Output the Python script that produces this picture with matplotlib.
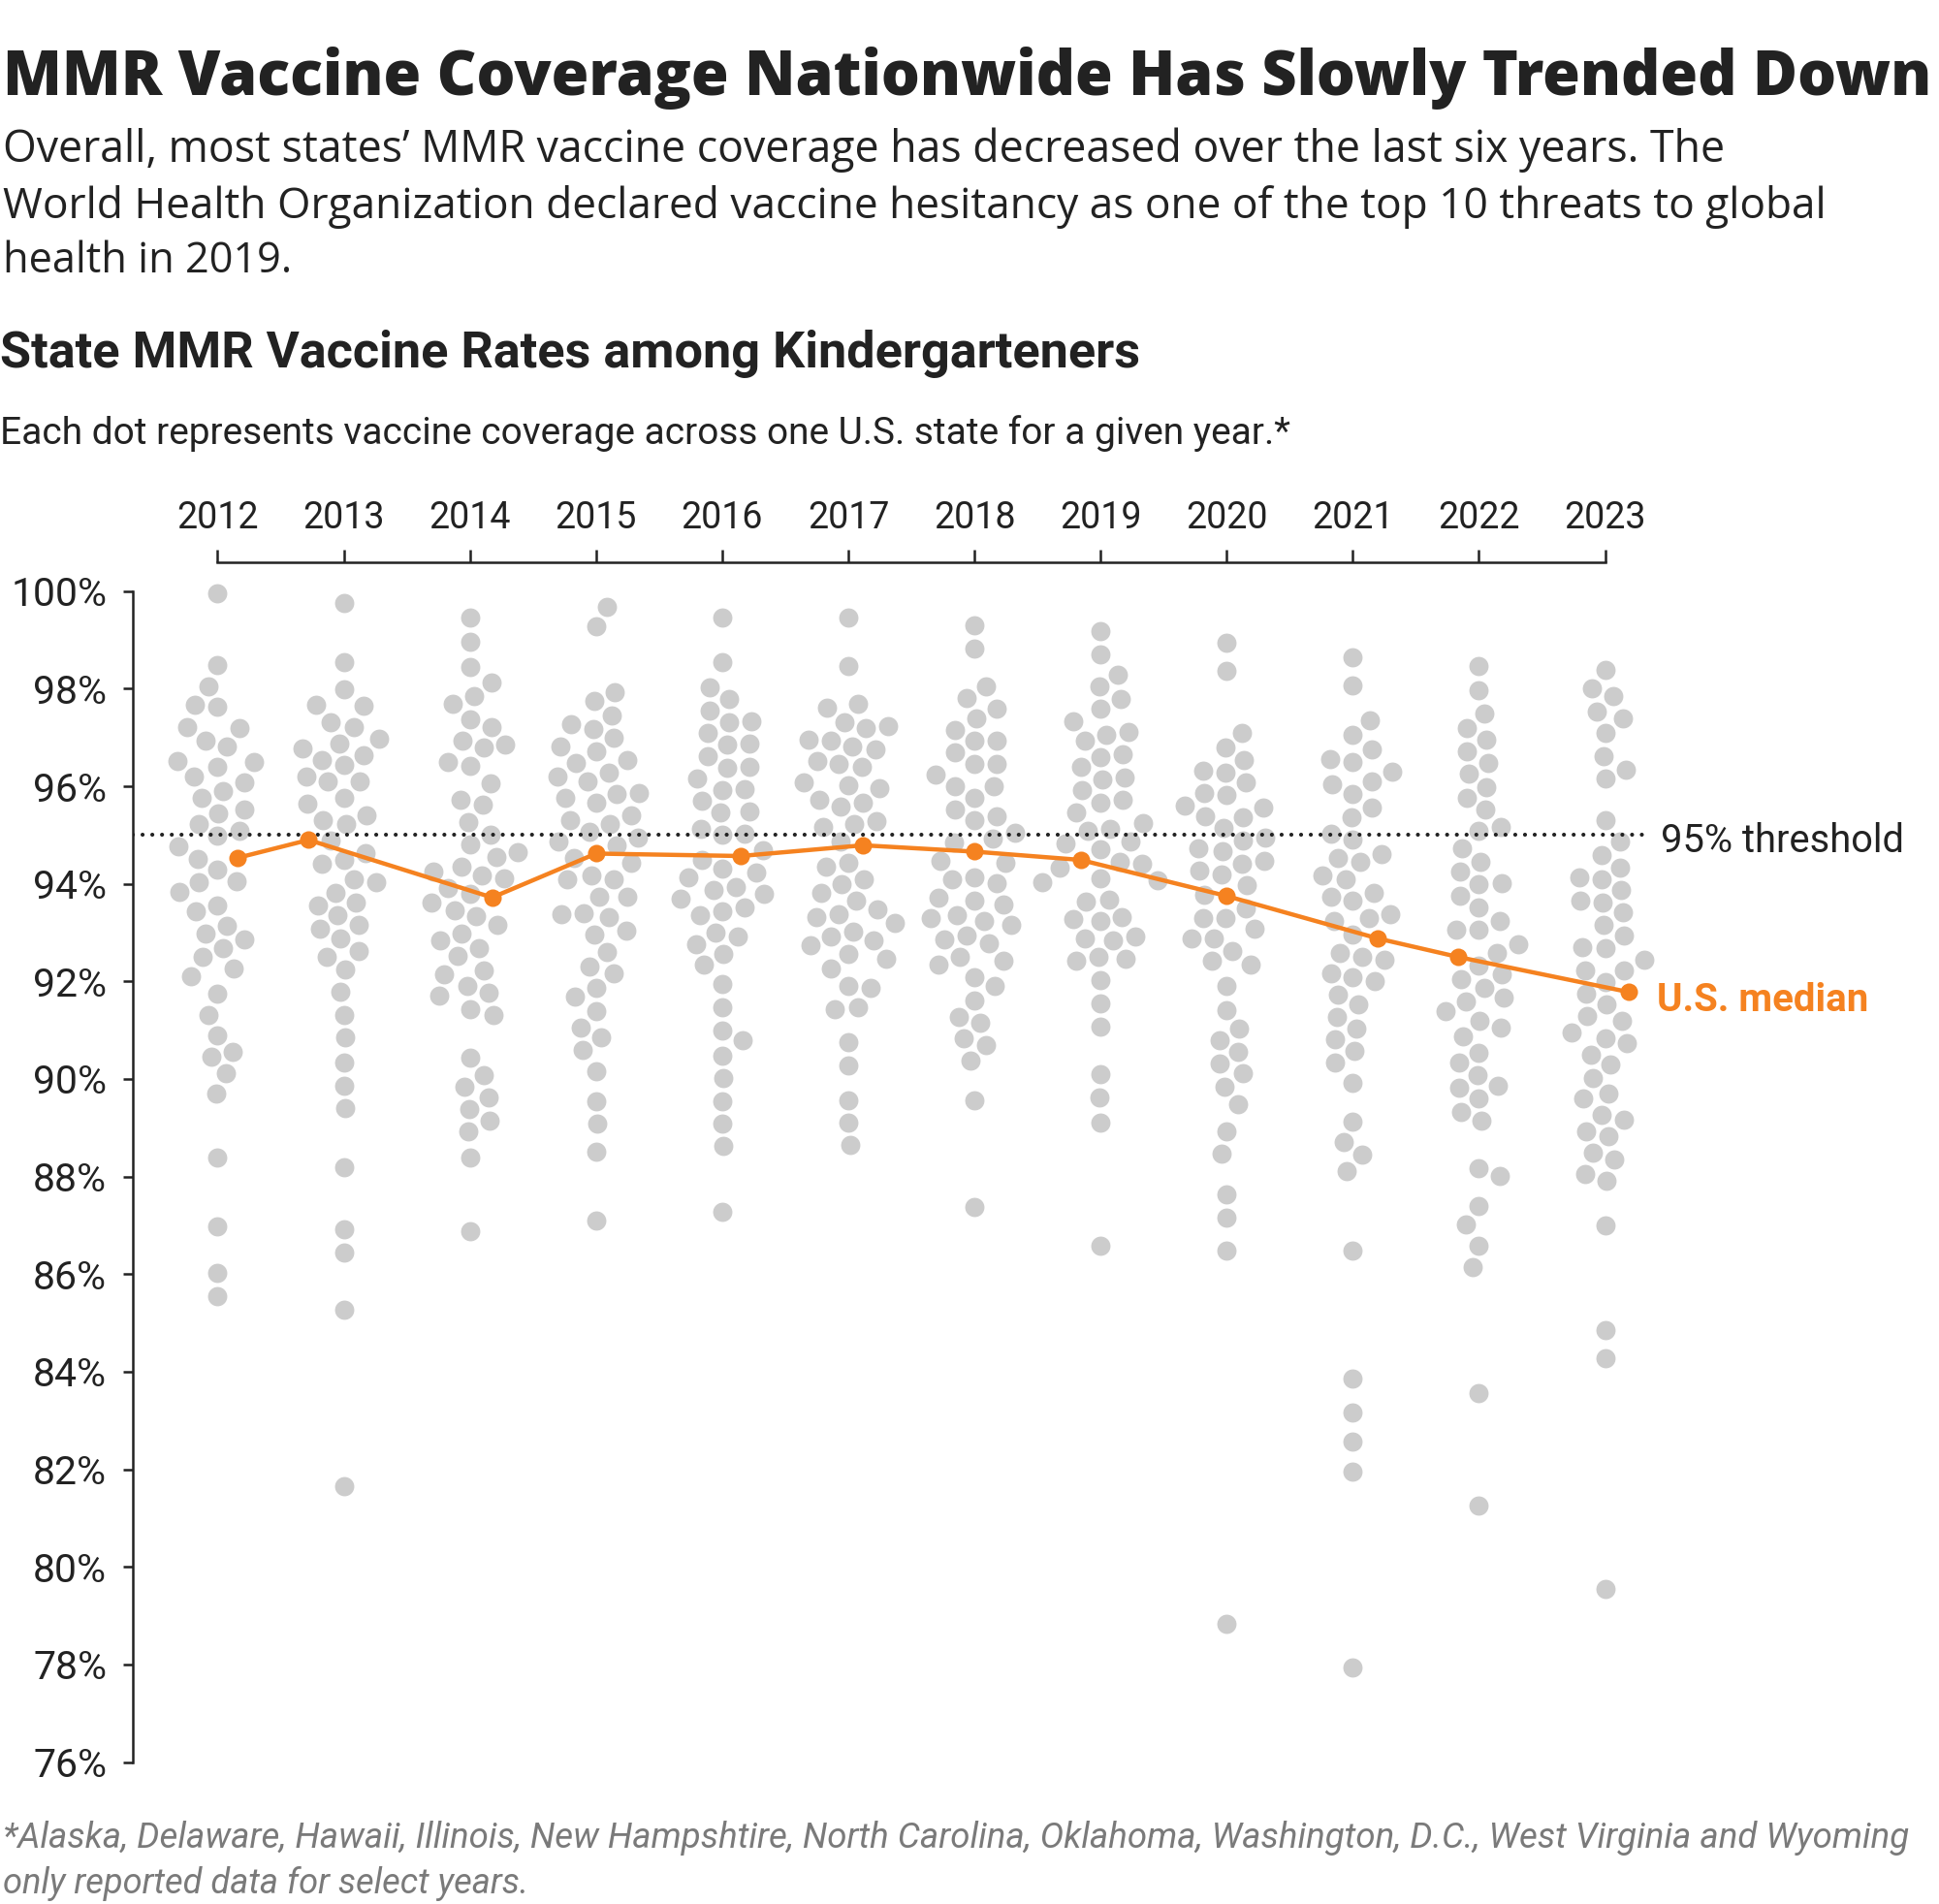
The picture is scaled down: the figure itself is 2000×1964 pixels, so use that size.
import numpy as np
import matplotlib.pyplot as plt

# ---- data ----
YEARS = [2012, 2013, 2014, 2015, 2016, 2017, 2018, 2019, 2020, 2021, 2022, 2023]

RATES_2012 = [99.96, 98.49, 98.04, 97.66, 97.62, 97.22, 97.20, 96.94, 96.82, 96.51, 96.49, 96.40,
              96.19, 96.08, 95.90, 95.76, 95.53, 95.45, 95.23, 95.08, 94.98, 94.76, 94.51, 94.30,
              94.06, 94.04, 93.83, 93.56, 93.44, 93.14, 92.98, 92.86, 92.68, 92.50, 92.27, 92.10,
              91.74, 91.32, 90.90, 90.56, 90.45, 90.11, 89.70, 88.40, 86.98, 86.02, 85.54]
RATES_2013 = [99.76, 98.55, 97.99, 97.66, 97.64, 97.31, 97.22, 96.98, 96.88, 96.77, 96.64, 96.54,
              96.43, 96.20, 96.09, 96.09, 95.76, 95.65, 95.40, 95.31, 95.23, 94.88, 94.62, 94.50,
              94.41, 94.09, 94.04, 93.82, 93.62, 93.55, 93.35, 93.16, 93.08, 92.88, 92.62, 92.51,
              92.24, 91.79, 91.32, 90.86, 90.34, 89.87, 89.41, 88.20, 86.92, 86.45, 85.28, 81.65]
RATES_2014 = [99.45, 98.97, 98.45, 98.13, 97.84, 97.68, 97.38, 97.22, 96.94, 96.86, 96.79, 96.50,
              96.42, 96.06, 95.72, 95.63, 95.27, 95.00, 94.81, 94.64, 94.54, 94.36, 94.26, 94.18,
              94.11, 93.91, 93.79, 93.61, 93.45, 93.33, 93.15, 92.98, 92.85, 92.68, 92.52, 92.23,
              92.15, 91.91, 91.77, 91.70, 91.44, 91.32, 90.43, 90.07, 89.85, 89.62, 89.38, 89.15,
              88.92, 88.40, 86.88]
RATES_2015 = [99.67, 99.27, 97.92, 97.74, 97.45, 97.27, 97.18, 96.99, 96.82, 96.71, 96.54, 96.48,
              96.28, 96.19, 96.09, 95.86, 95.84, 95.76, 95.66, 95.41, 95.31, 95.23, 95.06, 94.95,
              94.87, 94.79, 94.53, 94.43, 94.17, 94.10, 94.09, 93.74, 93.73, 93.40, 93.38, 93.32,
              93.03, 92.97, 92.60, 92.31, 92.16, 91.86, 91.69, 91.39, 91.05, 90.86, 90.59, 90.16,
              89.54, 89.08, 88.51, 87.10]
RATES_2016 = [99.46, 98.55, 98.02, 97.78, 97.55, 97.33, 97.31, 97.09, 96.87, 96.85, 96.62, 96.40,
              96.38, 96.15, 95.95, 95.93, 95.70, 95.48, 95.46, 95.13, 95.03, 95.00, 94.68, 94.50,
              94.31, 94.23, 94.13, 93.94, 93.87, 93.80, 93.70, 93.52, 93.44, 93.35, 93.00, 92.93,
              92.77, 92.57, 92.34, 91.95, 91.48, 91.00, 90.79, 90.47, 90.01, 89.55, 89.08, 88.62,
              87.28]
RATES_2017 = [99.46, 98.46, 97.68, 97.61, 97.31, 97.24, 97.19, 96.95, 96.93, 96.82, 96.76, 96.52,
              96.45, 96.39, 96.08, 96.03, 95.97, 95.73, 95.66, 95.59, 95.29, 95.23, 95.17, 94.87,
              94.44, 94.36, 94.10, 94.00, 93.82, 93.65, 93.48, 93.37, 93.31, 93.20, 93.02, 92.92,
              92.85, 92.74, 92.56, 92.46, 92.27, 91.90, 91.87, 91.48, 91.44, 90.75, 90.28, 89.57,
              89.10, 88.64]
RATES_2018 = [99.29, 98.82, 98.05, 97.81, 97.58, 97.39, 97.16, 96.93, 96.93, 96.69, 96.46, 96.46,
              96.23, 96.01, 96.00, 95.77, 95.52, 95.38, 95.30, 95.05, 94.92, 94.85, 94.48, 94.44,
              94.13, 94.09, 94.02, 93.72, 93.65, 93.58, 93.36, 93.29, 93.23, 93.15, 92.94, 92.86,
              92.78, 92.50, 92.43, 92.35, 92.08, 91.90, 91.61, 91.28, 91.15, 90.83, 90.70, 90.37,
              89.57, 87.38]
RATES_2019 = [99.17, 98.70, 98.29, 98.04, 97.78, 97.58, 97.33, 97.12, 97.06, 96.93, 96.65, 96.60,
              96.39, 96.18, 96.14, 95.93, 95.72, 95.67, 95.47, 95.25, 95.13, 95.08, 94.87, 94.83,
              94.70, 94.46, 94.41, 94.34, 94.11, 94.07, 94.04, 93.68, 93.64, 93.31, 93.27, 93.23,
              92.93, 92.88, 92.85, 92.50, 92.47, 92.43, 92.03, 91.55, 91.08, 90.09, 89.63, 89.10,
              86.59]
RATES_2020 = [98.95, 98.36, 97.10, 96.80, 96.54, 96.32, 96.28, 96.07, 95.86, 95.82, 95.60, 95.57,
              95.39, 95.36, 95.14, 94.94, 94.89, 94.73, 94.67, 94.47, 94.42, 94.27, 94.20, 93.97,
              93.77, 93.50, 93.29, 93.29, 93.08, 92.89, 92.88, 92.62, 92.43, 92.34, 91.90, 91.42,
              91.03, 90.80, 90.56, 90.32, 90.11, 89.85, 89.48, 88.92, 88.47, 87.63, 87.16, 86.49,
              78.83]
RATES_2021 = [98.65, 98.06, 97.36, 97.05, 96.76, 96.56, 96.50, 96.30, 96.10, 96.05, 95.85, 95.56,
              95.37, 95.03, 94.91, 94.61, 94.53, 94.46, 94.17, 94.10, 93.81, 93.74, 93.66, 93.38,
              93.30, 93.23, 92.97, 92.59, 92.51, 92.44, 92.17, 92.08, 92.01, 91.73, 91.52, 91.27,
              91.04, 90.81, 90.57, 90.34, 89.93, 89.12, 88.70, 88.45, 88.12, 86.48, 83.87, 83.16,
              82.57, 81.96, 77.94]
RATES_2022 = [98.46, 97.96, 97.49, 97.19, 96.95, 96.72, 96.48, 96.26, 95.99, 95.77, 95.52, 95.16,
              95.08, 94.73, 94.46, 94.26, 94.01, 94.00, 93.76, 93.52, 93.24, 93.06, 93.05, 92.77,
              92.59, 92.32, 92.14, 92.04, 91.87, 91.66, 91.58, 91.39, 91.20, 91.06, 90.87, 90.53,
              90.33, 90.07, 89.87, 89.82, 89.61, 89.33, 89.15, 88.17, 88.02, 87.39, 87.02, 86.59,
              86.15, 83.56, 81.25]
RATES_2023 = [98.38, 98.01, 97.85, 97.53, 97.39, 97.10, 96.62, 96.33, 96.16, 95.31, 94.86, 94.59,
              94.34, 94.13, 94.09, 93.87, 93.65, 93.62, 93.41, 93.16, 92.94, 92.70, 92.68, 92.45,
              92.23, 92.22, 91.99, 91.75, 91.53, 91.29, 91.19, 90.96, 90.84, 90.74, 90.49, 90.29,
              90.02, 89.70, 89.60, 89.26, 89.16, 88.93, 88.82, 88.49, 88.36, 88.06, 87.92, 86.99,
              84.85, 84.27, 79.54]

MEDIANS = [94.53, 94.90, 93.72, 94.62, 94.57, 94.79, 94.66, 94.49, 93.75, 92.88, 92.50, 91.78]

RATES = [RATES_2012, RATES_2013, RATES_2014, RATES_2015, RATES_2016, RATES_2017,
         RATES_2018, RATES_2019, RATES_2020, RATES_2021, RATES_2022, RATES_2023]

Y_TICKS = list(range(76, 101, 2))
THRESHOLD = 95

GREY = '#cccccc'
ORANGE = '#f58220'
INK = '#222222'
NARROW = ['Roboto', 'DejaVu Sans']
WIDE = ['Open Sans', 'DejaVu Sans']

# ---- figure geometry (pixels of a 2000 x 1964 canvas) ----
W, H = 2000, 1964
AX_LEFT, AX_RIGHT = 136.5, 1703
AX_TOP, AX_BOT = 609.7, 1817.6
X0_PX, YEAR_PX = 224.5, 130.1
PX_PER_PCT = (AX_BOT - AX_TOP) / 24
DOT_GAP = 23.2


def swarm_offsets(vals_px, dist, center_px):
    """Beeswarm placed from the middle outwards: x offsets (px) with no overlaps."""
    order = np.argsort(np.abs(vals_px - center_px))
    xs = np.zeros(len(vals_px))
    placed = []
    for k, i in enumerate(order):
        y = vals_px[i]
        near = [(py, px) for py, px in placed if abs(py - y) < dist]
        cands = [0.0]
        for py, px in near:
            dx = np.sqrt(dist ** 2 - (py - y) ** 2)
            cands += [px + dx, px - dx]
        side = 1 if k % 2 else -1
        cands.sort(key=lambda c: (round(abs(c), 3), side * c))
        for c in cands:
            if all((c - px) ** 2 + (y - py) ** 2 >= dist ** 2 - 1e-6 for py, px in near):
                xs[i] = c
                break
        placed.append((y, xs[i]))
    return xs


def fit(t, width_px):
    r = fig.canvas.get_renderer()
    w = t.get_window_extent(r).width
    t.set_fontsize(t.get_fontsize() * width_px / w)
    return t


fig = plt.figure(figsize=(W / 100, H / 100), dpi=100)
ax = fig.add_axes([AX_LEFT / W, 1 - AX_BOT / H, (AX_RIGHT - AX_LEFT) / W, (AX_BOT - AX_TOP) / H])

x_lo = YEARS[0] - (X0_PX - AX_LEFT) / YEAR_PX
x_hi = YEARS[0] + (AX_RIGHT - X0_PX) / YEAR_PX
ax.set_xlim(x_lo, x_hi)
ax.set_ylim(76, 100)

med_x = []
for year, vals, med in zip(YEARS, RATES, MEDIANS):
    allv = np.array(vals + [med])
    offs = swarm_offsets(allv * PX_PER_PCT, DOT_GAP, np.median(allv) * PX_PER_PCT) / YEAR_PX
    ax.scatter(year + offs[:-1], allv[:-1], s=205, color=GREY, linewidths=0, zorder=2, clip_on=False)
    med_x.append(year + offs[-1])

ax.axhline(THRESHOLD, color=INK, lw=3, ls=(0, (0.01, 2.4)), dash_capstyle='round', zorder=3)
ax.plot(med_x, MEDIANS, color=ORANGE, lw=3.2, zorder=4, solid_capstyle='round')
ax.plot(med_x, MEDIANS, 'o', color=ORANGE, ms=13, mew=0, zorder=5)

thr = ax.text(YEARS[0] + (1713 - X0_PX) / YEAR_PX, THRESHOLD - 0.12, '95% threshold', fontsize=28,
              family=NARROW, color=INK, va='center', ha='left', clip_on=False)
med = ax.text(YEARS[0] + (1709 - X0_PX) / YEAR_PX, MEDIANS[-1] - 0.17, 'U.S. median', fontsize=28,
              family=NARROW, weight='bold', color=ORANGE, va='center', ha='left', clip_on=False)
fit(thr, 251)
fit(med, 219)

# axes styling
for s in ['right', 'bottom']:
    ax.spines[s].set_visible(False)
ax.spines['left'].set_color(INK)
ax.spines['left'].set_linewidth(1.8)
ax.spines['top'].set_color(INK)
ax.spines['top'].set_linewidth(1.8)
ax.spines['top'].set_position(('outward', 21.4))
ax.spines['top'].set_bounds(YEARS[0], YEARS[-1])

ax.xaxis.tick_top()
ax.set_xticks(YEARS)
ax.set_xticklabels([str(y) for y in YEARS])
ax.set_yticks(Y_TICKS)
ax.set_yticklabels([f'{t}%' for t in Y_TICKS])
ax.tick_params(axis='x', length=9.5, width=1.8, color=INK, pad=10, labelsize=27, labelcolor=INK)
ax.tick_params(axis='y', length=7, width=1.8, color=INK, pad=12, labelsize=29.5, labelcolor=INK)
for lab in ax.get_xticklabels() + ax.get_yticklabels():
    lab.set_family(NARROW)


def fig_text(x_px, base_px, s, width_px, **kw):
    t = fig.text(x_px / W, 1 - base_px / H, s, va='baseline', ha='left', **kw)
    return fit(t, width_px)


fig_text(3, 98, 'MMR Vaccine Coverage Nationwide Has Slowly Trended Down', 1993,
         fontsize=44, weight=800, family=WIDE, color=INK)
sub_kw = dict(fontsize=28, family=WIDE, color=INK)
fig_text(3, 167, 'Overall, most states\u2019 MMR vaccine coverage has decreased over the last six years. The',
         1775, **sub_kw)
fig_text(3, 224.5, 'World Health Organization declared vaccine hesitancy as one of the top 10 threats to global',
         1880, **sub_kw)
fig_text(3, 281, 'health in 2019.', 298, **sub_kw)
fig_text(0, 379, 'State MMR Vaccine Rates among Kindergarteners', 1176,
         fontsize=38, weight='bold', family=NARROW, color=INK)
fig_text(0, 458, 'Each dot represents vaccine coverage across one U.S. state for a given year.*', 1330,
         fontsize=30, family=NARROW, color=INK)
foot_kw = dict(fontsize=28, family=NARROW, style='italic', color='#7a7a7a')
fig_text(3, 1906, '*Alaska, Delaware, Hawaii, Illinois, New Hampshtire, North Carolina, Oklahoma, '
         'Washington, D.C., West Virginia and Wyoming', 1965, **foot_kw)
fig_text(3, 1953, 'only reported data for select years.', 542, **foot_kw)

fig.savefig('out.png', dpi=100)
